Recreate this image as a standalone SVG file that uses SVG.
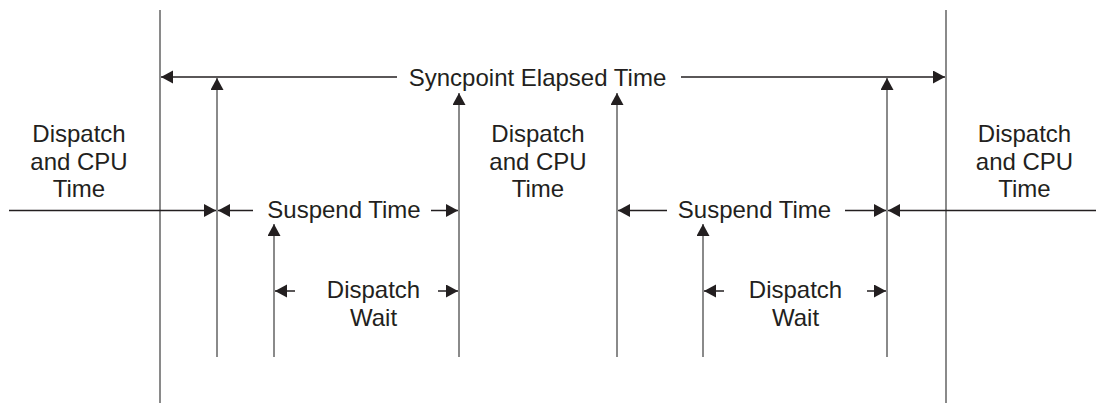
<svg xmlns="http://www.w3.org/2000/svg" width="1097" height="405" viewBox="0 0 1097 405">
<style>
.t{font-family:"Liberation Sans",Arial,sans-serif;font-size:24px;fill:#231f20;text-anchor:middle}
.v{stroke:#8a8a8a;stroke-width:2;fill:none}
.h{stroke:#231f20;stroke-width:1.5;fill:none}
</style>
<defs>
<marker id="ah" markerUnits="userSpaceOnUse" markerWidth="13" markerHeight="14" refX="12" refY="6.5" orient="auto">
<path d="M0,0 L12,6.5 L0,13 z" fill="#231f20"/>
</marker>
</defs>
<g id="connectors">
<line class="v" x1="160" y1="10" x2="160" y2="403"/>
<line class="v" x1="946" y1="10" x2="946" y2="403"/>
<line class="v" x1="217" y1="357" x2="217" y2="78" marker-end="url(#ah)"/>
<line class="v" x1="459" y1="357" x2="459" y2="93" marker-end="url(#ah)"/>
<line class="v" x1="617" y1="357" x2="617" y2="93" marker-end="url(#ah)"/>
<line class="v" x1="887" y1="357" x2="887" y2="78" marker-end="url(#ah)"/>
<line class="v" x1="274" y1="357" x2="274" y2="224" marker-end="url(#ah)"/>
<line class="v" x1="703" y1="357" x2="703" y2="224" marker-end="url(#ah)"/>
<line class="h" x1="397" y1="77" x2="161" y2="77" marker-end="url(#ah)"/>
<line class="h" x1="681" y1="77" x2="945" y2="77" marker-end="url(#ah)"/>
<line class="h" x1="9" y1="210.5" x2="216" y2="210.5" marker-end="url(#ah)"/>
<line class="h" x1="253" y1="210.5" x2="218" y2="210.5" marker-end="url(#ah)"/>
<line class="h" x1="431" y1="210.5" x2="458" y2="210.5" marker-end="url(#ah)"/>
<line class="h" x1="667" y1="210.5" x2="618" y2="210.5" marker-end="url(#ah)"/>
<line class="h" x1="845" y1="210.5" x2="886" y2="210.5" marker-end="url(#ah)"/>
<line class="h" x1="1096" y1="210.5" x2="888" y2="210.5" marker-end="url(#ah)"/>
<line class="h" x1="295" y1="291" x2="275" y2="291" marker-end="url(#ah)"/>
<line class="h" x1="438" y1="291" x2="458" y2="291" marker-end="url(#ah)"/>
<line class="h" x1="724" y1="291" x2="704" y2="291" marker-end="url(#ah)"/>
<line class="h" x1="867" y1="291" x2="886" y2="291" marker-end="url(#ah)"/>
</g>
<g id="syncpoint"><text class="t" x="537.5" y="85.5">Syncpoint Elapsed Time</text></g>
<g id="dispatch-left"><text class="t" x="79" y="142">Dispatch</text><text class="t" x="79" y="170">and CPU</text><text class="t" x="79" y="197">Time</text></g>
<g id="dispatch-mid"><text class="t" x="538" y="142">Dispatch</text><text class="t" x="538" y="170">and CPU</text><text class="t" x="538" y="197">Time</text></g>
<g id="dispatch-right"><text class="t" x="1024.5" y="142">Dispatch</text><text class="t" x="1024.5" y="170">and CPU</text><text class="t" x="1024.5" y="197">Time</text></g>
<g id="suspend-left"><text class="t" x="344" y="218">Suspend Time</text></g>
<g id="suspend-right"><text class="t" x="754.5" y="218">Suspend Time</text></g>
<g id="wait-left"><text class="t" x="373.5" y="297.5">Dispatch</text><text class="t" x="373.5" y="325.5">Wait</text></g>
<g id="wait-right"><text class="t" x="795.5" y="297.5">Dispatch</text><text class="t" x="795.5" y="325.5">Wait</text></g>
</svg>
